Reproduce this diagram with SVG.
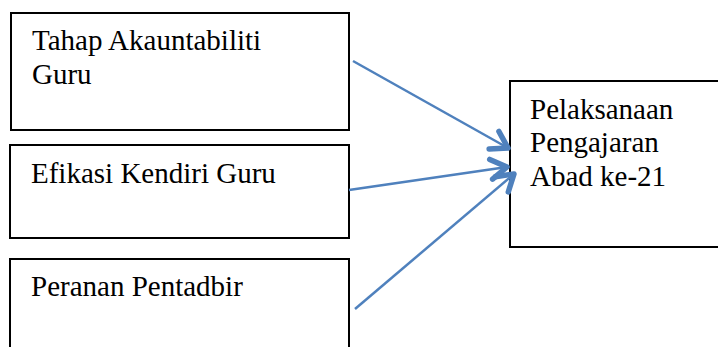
<svg xmlns="http://www.w3.org/2000/svg" width="718" height="347" viewBox="0 0 718 347">
<style>
.box{fill:#fff;stroke:#000;stroke-width:2}
.c{stroke:#4F81BD;stroke-width:2.5;fill:none}
</style>
<defs>
<marker id="ah" markerUnits="userSpaceOnUse" markerWidth="30" markerHeight="30" refX="0" refY="0" viewBox="-20 -15 24 30" orient="auto" overflow="visible">
<path d="M-16,-10 L0,0 L-16,10" fill="none" stroke="#4F81BD" stroke-width="5.5" stroke-linecap="round" stroke-linejoin="round"/>
</marker>
</defs>
<rect width="718" height="347" fill="#fff"/>
<g font-family="'Liberation Serif', 'Times New Roman', 'DejaVu Serif', serif" font-size="29" fill="#000">
<g id="n1"><rect class="box" x="11" y="13" width="338" height="117"/>
<text x="32" y="50">Tahap Akauntabiliti</text><text x="32" y="84">Guru</text></g>
<g id="n2"><rect class="box" x="10" y="145" width="339" height="93"/>
<text x="31" y="183">Efikasi Kendiri Guru</text></g>
<g id="n3"><rect class="box" x="10" y="259" width="339" height="100"/>
<text x="31" y="296">Peranan Pentadbir</text></g>
<g id="n4"><rect class="box" x="510" y="81" width="220" height="166"/>
<text x="530" y="119">Pelaksanaan</text><text x="530" y="152">Pengajaran</text><text x="530" y="186">Abad ke-21</text></g>
</g>
<g id="connectors">
<line class="c" x1="353" y1="61" x2="508" y2="148" marker-end="url(#ah)"/>
<line class="c" x1="349" y1="190" x2="507" y2="167" marker-end="url(#ah)"/>
<line class="c" x1="355" y1="309" x2="514" y2="174" marker-end="url(#ah)"/>
</g>
</svg>
